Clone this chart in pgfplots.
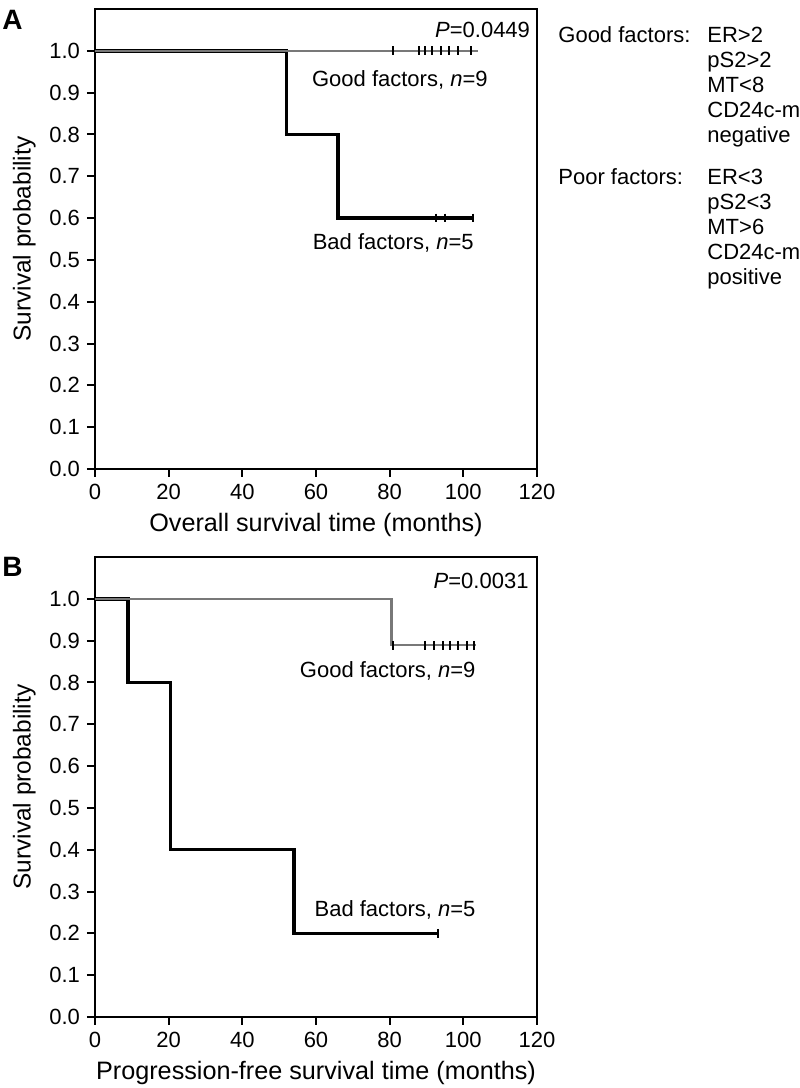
\documentclass[border=0pt]{standalone}
\usepackage{fontspec}
\setmainfont{Liberation Sans}
\usepackage{pgfplots}
\pgfplotsset{compat=1.18}
\definecolor{kmgrey}{gray}{0.47}

\pgfplotsset{kmaxis/.style={
    scale only axis,
    anchor=south west,
    width=221pt, height=230pt,
    xmin=0, xmax=120, ymin=0, ymax=1.1,
    xtick={0,20,40,60,80,100,120},
    ytick={0,0.1,0.2,0.3,0.4,0.5,0.6,0.7,0.8,0.9,1.0},
    tick align=outside,
    xtick pos=left, ytick pos=left,
    major tick length=4pt,
    every tick/.style={black, line width=1pt},
    axis line style={line width=1pt},
    tick label style={font=\fontsize{11}{13}\selectfont},
    xlabel style={font=\fontsize{12.6}{15}\selectfont},
    ylabel style={font=\fontsize{12.2}{15}\selectfont},
    yticklabel style={/pgf/number format/.cd, fixed, fixed zerofill, precision=1},
    /pgf/number format/assume math mode=true,
    ylabel={Survival probability},
    clip=false,
}}
\tikzset{
  bad/.style={black, line width=1.7pt, const plot},
  good/.style={kmgrey, line width=1.2pt, const plot},
  cens/.style={only marks, mark=|, mark size=2.2pt, black, mark options={line width=1pt}},
  note/.style={font=\fontsize{11}{13}\selectfont, inner sep=0pt},
}

\begin{document}
\begin{tikzpicture}
\path[use as bounding box] (0,0) rectangle (399.5pt,544pt);

% panel A
\begin{axis}[kmaxis, at={(47.5pt,309.5pt)},
    xlabel={Overall survival time (months)}]
  \addplot[bad] coordinates {(0,1) (52,0.8) (66,0.6) (103,0.6)};
  \addplot[cens] coordinates {(92.5,0.6) (95,0.6) (102.5,0.6)};
  \addplot[good] coordinates {(0,1) (104,1)};
  \addplot[cens] coordinates {(81,1) (88,1) (89.5,1) (91.5,1) (94,1) (96,1) (98.5,1) (102,1)};
  \node[note, anchor=base east] at (axis cs:118.2,1.031) {\textit{P}=0.0449};
  \node[note, anchor=base east] at (axis cs:106.7,0.914) {Good factors, \textit{n}=9};
  \node[note, anchor=base east] at (axis cs:102.9,0.525) {Bad factors, \textit{n}=5};
\end{axis}

% panel B
\begin{axis}[kmaxis, at={(47.5pt,35.5pt)},
    xlabel={Progression-free survival time (months)}]
  \addplot[bad] coordinates {(0,1) (9,0.8) (20.5,0.4) (54,0.2) (93,0.2)};
  \addplot[cens] coordinates {(93,0.2)};
  \addplot[good] coordinates {(0,1) (80.5,0.889) (103.5,0.889)};
  \addplot[cens] coordinates {(81,0.889) (89.5,0.889) (92,0.889) (94.5,0.889) (96.5,0.889) (98.5,0.889) (101,0.889) (103,0.889)};
  \node[note, anchor=base east] at (axis cs:117.8,1.024) {\textit{P}=0.0031};
  \node[note, anchor=base east] at (axis cs:103.4,0.811) {Good factors, \textit{n}=9};
  \node[note, anchor=base east] at (axis cs:103.4,0.241) {Bad factors, \textit{n}=5};
\end{axis}

% panel letters and factor key
\node[anchor=base west, inner sep=0pt, font=\fontsize{14}{16}\selectfont\bfseries] at (1pt,529pt) {A};
\node[anchor=base west, inner sep=0pt, font=\fontsize{14}{16}\selectfont\bfseries] at (1pt,255.5pt) {B};
\node[note, anchor=base west] at (279pt,522.5pt) {Good factors:};
\foreach \t [count=\i from 0] in {ER>2,pS2>2,MT<8,CD24c-m,negative}
  \node[note, anchor=base west] at (353.5pt,522.5pt-\i*12.5pt) {\t};
\node[note, anchor=base west] at (279pt,451.5pt) {Poor factors:};
\foreach \t [count=\i from 0] in {ER<3,pS2<3,MT>6,CD24c-m,positive}
  \node[note, anchor=base west] at (353.5pt,451.5pt-\i*12.5pt) {\t};
\end{tikzpicture}
\end{document}
